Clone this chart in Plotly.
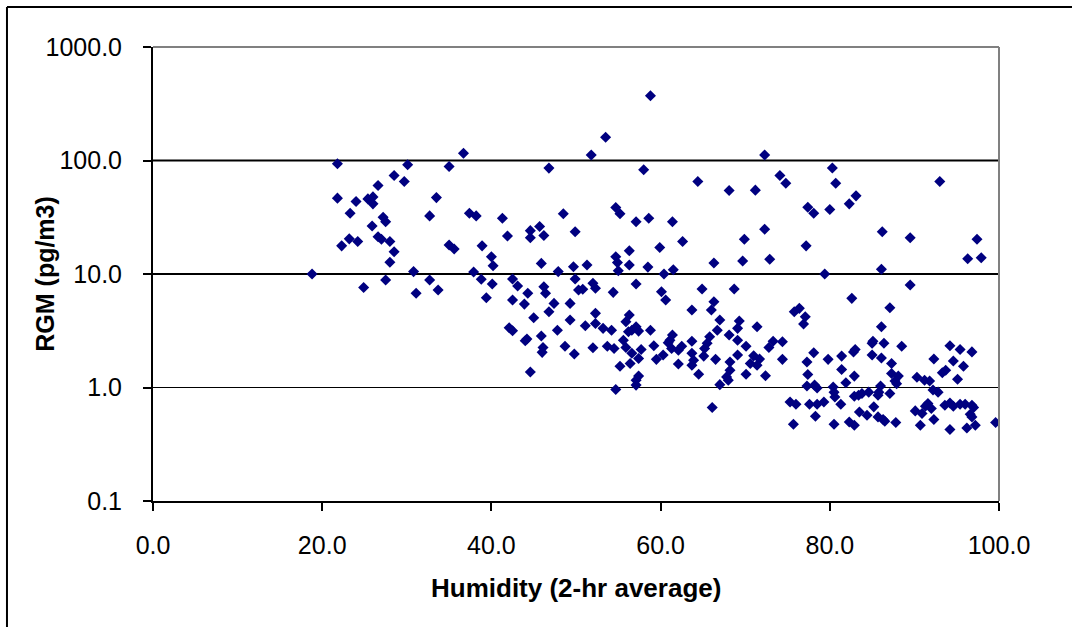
import plotly.graph_objects as go

# Relative humidity (2-hr average, %) for each RGM sample
humidity = [
    21.8, 36.7, 30.1, 35.0, 28.5, 29.7, 26.6, 21.8, 24.0, 25.4,
    26.0, 26.0, 33.5, 23.3, 27.2, 27.5, 32.7, 37.4, 38.2, 25.9,
    26.6, 27.0, 23.2, 24.2, 22.3, 28.0, 28.5, 35.0, 35.6, 38.9,
    28.0, 18.8, 24.9, 27.5, 30.8, 32.7, 31.1, 33.7, 37.9, 38.8,
    58.8, 53.5, 51.8, 46.8, 58.0, 41.3, 48.5, 54.7, 55.2, 57.1,
    58.6, 44.6, 44.6, 45.7, 46.2, 41.9, 49.9, 56.3, 40.0, 45.9,
    54.7, 54.9, 40.2, 49.7, 51.3, 56.3, 58.5, 55.0, 47.9, 40.1,
    42.5, 43.1, 49.9, 52.0, 52.3, 50.3, 50.8, 46.2, 46.4, 44.3,
    54.4, 57.1, 39.4, 42.5, 43.9, 47.4, 46.8, 49.3, 52.3, 56.3,
    55.9, 45.0, 49.3, 52.3, 53.2, 51.1, 54.2, 42.1, 42.5, 47.8,
    56.2, 57.1, 57.4, 56.6, 58.8, 44.2, 44.0, 45.9, 55.6, 53.7,
    54.5, 48.7, 52.0, 59.2, 46.1, 46.0, 49.8, 56.6, 57.7, 57.4,
    55.9, 55.2, 56.4, 44.6, 57.4, 57.1, 57.1, 54.7, 72.3, 80.3,
    64.4, 68.1, 71.2, 74.1, 74.8, 61.4, 77.4, 78.1, 80.0, 72.3,
    69.9, 59.9, 62.6, 77.2, 66.3, 69.7, 72.9, 60.4, 61.5, 79.4,
    60.1, 60.6, 64.9, 68.7, 66.3, 66.0, 63.7, 75.8, 76.4, 77.1,
    76.9, 67.0, 66.7, 69.3, 69.1, 71.4, 61.4, 61.1, 60.9, 61.3,
    62.5, 62.1, 63.7, 65.8, 65.5, 65.2, 68.1, 69.1, 70.1, 73.3,
    72.8, 74.4, 59.5, 60.3, 63.7, 63.9, 65.1, 66.5, 69.1, 71.0,
    71.7, 70.6, 71.4, 74.4, 78.1, 77.3, 79.8, 62.1, 63.7, 64.5,
    68.2, 68.2, 67.8, 67.0, 68.0, 70.1, 72.4, 77.4, 77.3, 78.2,
    78.5, 75.3, 76.0, 77.6, 78.5, 79.3, 66.1, 78.3, 75.7, 80.7,
    93.0, 83.1, 82.3, 86.2, 89.5, 97.4, 96.3, 97.9, 86.1, 89.5,
    82.6, 87.1, 86.1, 85.1, 85.0, 86.4, 88.5, 81.4, 82.8, 83.0,
    85.0, 86.1, 87.3, 92.3, 94.2, 95.4, 96.8, 94.6, 95.8, 93.3,
    93.7, 95.1, 81.4, 82.9, 81.9, 87.3, 88.1, 87.7, 87.9, 90.3,
    91.2, 91.8, 92.2, 92.8, 80.4, 80.5, 80.6, 81.3, 82.9, 83.4,
    83.8, 84.6, 86.0, 85.7, 85.8, 87.1, 85.2, 83.5, 84.4, 85.7,
    86.3, 86.5, 87.8, 80.5, 82.3, 82.9, 90.1, 90.9, 91.3, 91.6,
    92.0, 90.7, 92.3, 93.6, 94.2, 94.6, 95.4, 96.0, 96.8, 97.0,
    96.6, 96.8, 94.2, 96.2, 97.2, 99.6,
]

# Reactive gaseous mercury (pg/m3)
rgm = [
    93.5, 116, 91.6, 88.5, 73.8, 65.3, 60.2, 46.6, 43.5, 45.9,
    47.8, 41.5, 47.1, 34.3, 31.6, 28.9, 32.5, 34.3, 32.5, 26.5,
    21.3, 20.2, 20.4, 19.3, 17.7, 19.3, 15.7, 18.0, 16.6, 17.7,
    12.7, 10.0, 7.6, 8.85, 10.5, 8.85, 6.76, 7.22, 10.4, 9.0,
    372, 160, 112, 85.7, 82.8, 31.0, 33.9, 38.5, 33.9, 28.9,
    31.0, 24.1, 20.9, 26.2, 21.8, 21.6, 23.6, 16.0, 14.2, 12.4,
    14.2, 12.6, 11.8, 11.6, 12.0, 12.0, 11.5, 10.7, 10.5, 8.16,
    9.03, 7.83, 9.03, 8.28, 7.48, 7.22, 7.33, 7.72, 6.76, 6.76,
    6.89, 8.16, 6.18, 5.9, 5.43, 5.51, 4.65, 5.51, 4.50, 4.35,
    3.79, 4.11, 3.93, 3.67, 3.32, 3.50, 3.20, 3.36, 3.16, 3.20,
    3.10, 3.43, 3.14, 3.20, 3.20, 2.67, 2.58, 2.84, 2.61, 2.31,
    2.21, 2.31, 2.24, 2.33, 2.25, 2.04, 1.97, 2.00, 2.16, 1.80,
    2.25, 1.54, 1.63, 1.37, 1.26, 1.05, 1.16, 0.96, 112, 86,
    65.3, 54.4, 54.8, 73.8, 63.1, 28.9, 38.8, 34.3, 37.0, 24.8,
    20.2, 17.1, 19.3, 17.7, 12.5, 13.0, 13.5, 10.0, 10.9, 10.0,
    6.98, 5.9, 7.38, 7.38, 5.70, 4.81, 4.81, 4.65, 4.98, 4.20,
    3.62, 3.93, 3.20, 3.85, 3.32, 3.43, 2.90, 2.61, 2.48, 2.21,
    2.31, 2.13, 2.56, 2.80, 2.45, 2.21, 2.90, 2.61, 2.31, 2.56,
    2.25, 2.53, 1.77, 1.93, 2.00, 1.74, 1.89, 1.77, 1.93, 1.90,
    1.78, 1.63, 1.57, 1.77, 2.02, 1.68, 1.77, 1.61, 1.57, 1.31,
    1.68, 1.42, 1.24, 1.06, 1.16, 1.31, 1.27, 1.30, 1.03, 1.05,
    0.99, 0.746, 0.713, 0.713, 0.713, 0.746, 0.666, 0.558, 0.474, 63.1,
    65.3, 48.8, 41.5, 23.6, 20.9, 20.2, 13.6, 13.9, 11.0, 8.0,
    6.1, 5.04, 3.43, 2.56, 2.45, 2.45, 2.31, 1.89, 2.06, 2.16,
    1.93, 1.82, 1.63, 1.78, 2.33, 2.16, 2.06, 1.71, 1.54, 1.35,
    1.42, 1.18, 1.44, 1.26, 1.10, 1.33, 1.26, 1.14, 1.08, 1.23,
    1.16, 1.14, 0.95, 0.91, 1.01, 0.91, 0.826, 0.713, 0.838, 0.855,
    0.885, 0.91, 1.03, 0.855, 0.91, 0.885, 0.675, 0.609, 0.570, 0.551,
    0.522, 0.504, 0.491, 0.474, 0.497, 0.465, 0.622, 0.590, 0.684, 0.722,
    0.653, 0.465, 0.522, 0.698, 0.731, 0.684, 0.713, 0.713, 0.698, 0.666,
    0.581, 0.551, 0.426, 0.440, 0.465, 0.491,
]

x_ticks = [0, 20, 40, 60, 80, 100]
x_tick_text = ["0.0", "20.0", "40.0", "60.0", "80.0", "100.0"]
y_ticks = [0.1, 1, 10, 100, 1000]
y_tick_text = ["0.1", "1.0", "10.0", "100.0", "1000.0"]

FONT = "Liberation Sans, Arial, sans-serif"
NAVY = "#000080"

fig = go.Figure(
    go.Scatter(
        x=humidity,
        y=rgm,
        mode="markers",
        marker=dict(symbol="diamond", size=8.5, color=NAVY, line=dict(width=0)),
        showlegend=False,
        hoverinfo="x+y",
    )
)

# Horizontal reference lines at each decade (paper fractions of the 4-decade log range)
shapes = [
    dict(type="line", xref="paper", yref="paper", x0=0, x1=1, y0=0.75, y1=0.75,
         line=dict(color="black", width=2), layer="below"),
    dict(type="line", xref="paper", yref="paper", x0=0, x1=1, y0=0.5, y1=0.5,
         line=dict(color="black", width=2), layer="below"),
    dict(type="line", xref="paper", yref="paper", x0=0, x1=1, y0=0.25, y1=0.25,
         line=dict(color="black", width=1), layer="below"),
    # grey frame on top and right of the plotting area
    dict(type="line", xref="paper", yref="paper", x0=0, x1=1, y0=1, y1=1,
         line=dict(color="#808080", width=2)),
    dict(type="line", xref="paper", yref="paper", x0=1, x1=1, y0=0, y1=1,
         line=dict(color="#808080", width=2)),
    # outer chart border
    dict(type="line", xref="paper", yref="paper", x0=-0.1726, x1=1.2, y0=1.0881, y1=1.0881,
         line=dict(color="black", width=2)),
    dict(type="line", xref="paper", yref="paper", x0=-0.1726, x1=-0.1726, y0=1.0881, y1=-0.4,
         line=dict(color="black", width=2)),
]

annotations = [
    dict(text="<b>Humidity (2-hr average)</b>", xref="paper", yref="paper",
         x=0.5, y=-0.1916, xanchor="center", yanchor="middle", showarrow=False,
         font=dict(family=FONT, size=26, color="black")),
    dict(text="<b>RGM (pg/m3)</b>", xref="paper", yref="paper",
         x=-0.128, y=0.5, xanchor="center", yanchor="middle", showarrow=False,
         textangle=-90, font=dict(family=FONT, size=25, color="black")),
]

fig.update_layout(
    width=1072,
    height=627,
    margin=dict(l=153, r=73, t=47, b=126),
    paper_bgcolor="white",
    plot_bgcolor="white",
    font=dict(family=FONT, size=25, color="black"),
    shapes=shapes,
    annotations=annotations,
    xaxis=dict(
        range=[0, 100],
        tickvals=x_ticks,
        ticktext=x_tick_text,
        showgrid=False,
        zeroline=False,
        showline=True,
        linecolor="black",
        linewidth=2,
        ticks="outside",
        ticklen=8,
        tickwidth=2,
        tickcolor="black",
        ticklabelstandoff=13,
        tickfont=dict(family=FONT, size=25, color="black"),
    ),
    yaxis=dict(
        type="log",
        range=[-1, 3],
        tickvals=y_ticks,
        ticktext=y_tick_text,
        showgrid=False,
        zeroline=False,
        showline=True,
        linecolor="black",
        linewidth=2,
        ticks="outside",
        ticklen=8,
        tickwidth=2,
        tickcolor="black",
        ticklabelstandoff=16,
        tickfont=dict(family=FONT, size=25, color="black"),
    ),
)

fig.write_html("out.html")
